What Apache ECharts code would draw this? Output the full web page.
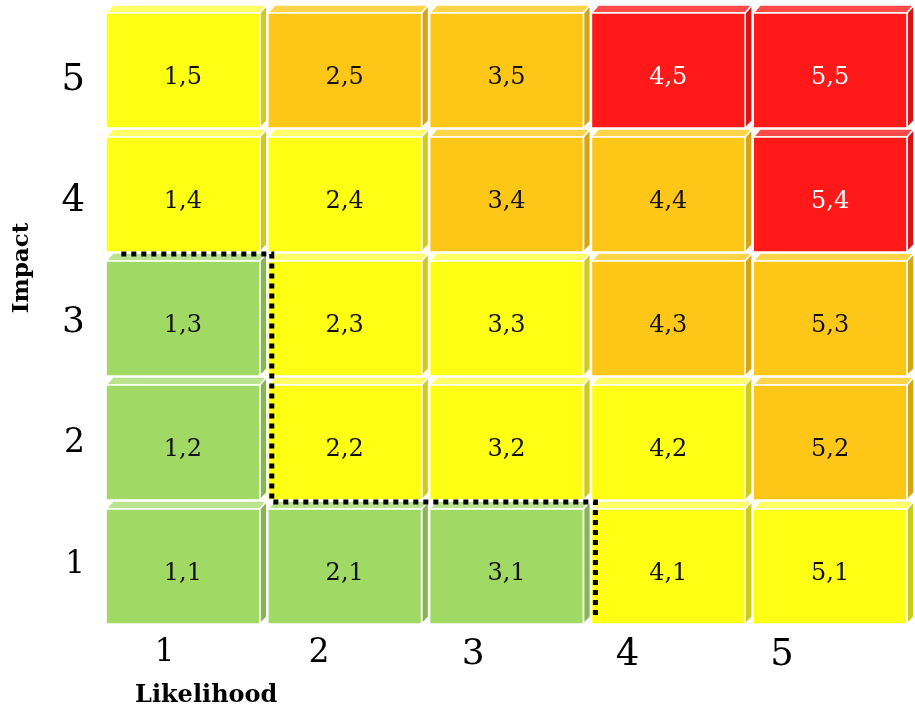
<!DOCTYPE html>
<html>
<head>
<meta charset="utf-8">
<script src="https://cdn.jsdelivr.net/npm/echarts@6/dist/echarts.min.js"></script>
<style>
  html, body { margin: 0; padding: 0; background: #ffffff; }
  #chart { width: 915px; height: 710px; }
</style>
</head>
<body>
<div id="chart"></div>
<script>
// Risk matrix: likelihood (x) against impact (y)
const likelihood = [1, 2, 3, 4, 5];
const impact = [1, 2, 3, 4, 5];
const levels = ['low', 'medium', 'high', 'extreme'];
// Risk level of each cell, one row per impact value (1..5), columns by likelihood (1..5)
const riskByImpact = [
  ['low',    'low',    'low',    'medium',  'medium'],   // impact 1
  ['low',    'medium', 'medium', 'medium',  'high'],     // impact 2
  ['low',    'medium', 'medium', 'high',    'high'],     // impact 3
  ['medium', 'medium', 'high',   'high',    'extreme'],  // impact 4
  ['medium', 'high',   'high',   'extreme', 'extreme']   // impact 5
];
const tickLabels = ['1', '2', '3', '4', '5'];
// Edge between the low-risk cells and the rest, in cell units
const lowRiskBoundary = [[0.57, 3.5], [1.5, 3.5], [1.5, 1.5], [3.5, 1.5], [3.5, 0.55]];

// Face colours for each level: front, top bevel, side bevel, text
const palette = {
  low:     { front: '#a0d963', top: '#b9e48c', side: '#87b650', text: '#111111' },
  medium:  { front: '#ffff14', top: '#ffff66', side: '#cfcb1c', text: '#111111' },
  high:    { front: '#fec718', top: '#ffd448', side: '#d6a416', text: '#111111' },
  extreme: { front: '#ff1919', top: '#ff4a4a', side: '#d81414', text: '#ffffff' }
};

const cells = [];
impact.forEach((imp, r) => {
  likelihood.forEach((lik, c) => {
    cells.push([lik, imp, levels.indexOf(riskByImpact[r][c])]);
  });
});

const chart = echarts.init(document.getElementById('chart'), null, { renderer: 'canvas' });

const serif = 'DejaVu Serif';
const tickRich = {
  s1: { fontSize: 31, fontFamily: serif, color: '#000' },
  s2: { fontSize: 33, fontFamily: serif, color: '#000' },
  s3: { fontSize: 36, fontFamily: serif, color: '#000' },
  s4: { fontSize: 37, fontFamily: serif, color: '#000' },
  s5: { fontSize: 37, fontFamily: serif, color: '#000' }
};
const tickFormatter = v => {
  const i = Math.round(v) - 1;
  return '{s' + (i + 1) + '|' + tickLabels[i] + '}';
};

function renderCell(params, api) {
  const lik = api.value(0);
  const imp = api.value(1);
  const style = palette[levels[api.value(2)]];
  const tl = api.coord([lik - 0.5, imp + 0.5]);
  const br = api.coord([lik + 0.5, imp - 0.5]);
  const d = 7;
  const x0 = tl[0], y0 = tl[1], x1 = br[0] - 1, y1 = br[1] - 1;
  const fx1 = x1 - d, fy0 = y0 + d + 1;
  const edge = { stroke: '#ffffff', lineWidth: 1.6 };
  return {
    type: 'group',
    children: [
      {
        type: 'polygon',
        shape: { points: [[x0, fy0], [x0 + d, y0], [x1, y0], [fx1, fy0]] },
        style: Object.assign({ fill: style.top }, edge)
      },
      {
        type: 'polygon',
        shape: { points: [[fx1, fy0], [x1, y0], [x1, y1 - d], [fx1, y1]] },
        style: Object.assign({ fill: style.side }, edge)
      },
      {
        type: 'rect',
        shape: { x: x0, y: fy0, width: fx1 - x0, height: y1 - fy0 },
        style: Object.assign({ fill: style.front }, edge)
      },
      {
        type: 'text',
        style: {
          text: lik + ',' + imp,
          x: (x0 + fx1) / 2,
          y: (fy0 + y1) / 2 + 7,
          align: 'center',
          verticalAlign: 'middle',
          fontFamily: serif,
          fontSize: 24,
          fill: style.text
        }
      }
    ]
  };
}

// Dotted boundary, nudged onto the front edge of the neighbouring cells
function renderBoundary(params, api) {
  const pts = lowRiskBoundary.map(p => {
    const c = api.coord(p);
    return [c[0] + 4, c[1] + 1];
  });
  return {
    type: 'polyline',
    shape: { points: pts },
    style: { stroke: '#000000', lineWidth: 5, lineDash: [5, 5], lineCap: 'butt', fill: null }
  };
}

chart.setOption({
  animation: false,
  backgroundColor: '#ffffff',
  grid: { left: 106, top: 5, width: 815, height: 620 },
  xAxis: [
    { type: 'value', min: 0.5, max: 5.5, show: false },
    {
      type: 'value', min: 0.6206, max: 5.8618, position: 'bottom',
      axisLine: { show: false }, axisTick: { show: false }, splitLine: { show: false },
      axisLabel: { customValues: likelihood, margin: 12, formatter: tickFormatter, rich: tickRich }
    }
  ],
  yAxis: [
    { type: 'value', min: 0.5, max: 5.5, show: false },
    {
      type: 'value', min: 0.5052, max: 5.6186, position: 'left',
      axisLine: { show: false }, axisTick: { show: false }, splitLine: { show: false },
      axisLabel: { customValues: impact, margin: 21, formatter: tickFormatter, rich: tickRich }
    }
  ],
  series: [
    {
      type: 'custom',
      xAxisIndex: 0,
      yAxisIndex: 0,
      renderItem: renderCell,
      data: cells,
      clip: false
    },
    {
      type: 'custom',
      xAxisIndex: 0,
      yAxisIndex: 0,
      renderItem: renderBoundary,
      data: [0],
      z: 5,
      clip: false
    }
  ],
  graphic: [
    {
      type: 'text', left: 135, top: 684,
      style: { text: 'Likelihood', fontFamily: serif, fontWeight: 'bold', fontSize: 24, fill: '#000' }
    },
    {
      type: 'text', x: 22, y: 268, rotation: Math.PI / 2,
      style: { text: 'Impact', fontFamily: serif, fontWeight: 'bold', fontSize: 23, fill: '#000', align: 'center', verticalAlign: 'middle' }
    }
  ]
});
</script>
</body>
</html>
